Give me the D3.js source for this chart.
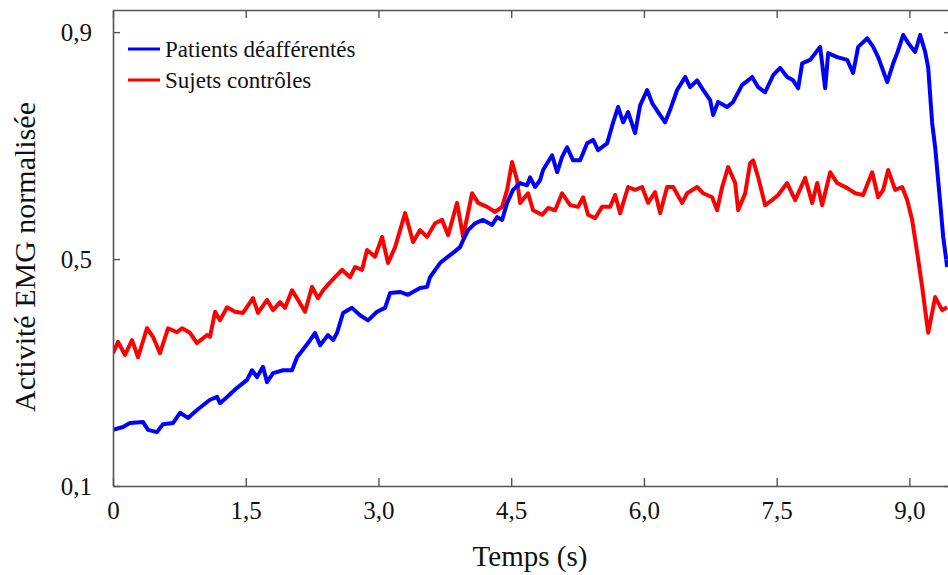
<!DOCTYPE html>
<html>
<head>
<meta charset="utf-8">
<script src="https://cdn.jsdelivr.net/npm/d3@7"></script>
<style>
  body { margin: 0; background: #fff; }
  text { font-family: "Liberation Serif", "Times New Roman", serif; fill: #111; }
</style>
</head>
<body>
<div id="chart"></div>
<script>
// time (s) / normalised EMG
const patientsT = [0, 0.113, 0.192, 0.339, 0.396, 0.497, 0.565, 0.678, 0.757, 0.848, 0.949, 1.096, 1.176, 1.209, 1.289, 1.402, 1.515, 1.571, 1.628, 1.695, 1.741, 1.809, 1.922, 2.023, 2.080, 2.170, 2.227, 2.283, 2.340, 2.430, 2.487, 2.532, 2.600, 2.701, 2.792, 2.882, 2.984, 3.074, 3.131, 3.244, 3.334, 3.470, 3.549, 3.583, 3.696, 3.775, 3.843, 3.922, 3.956, 4.013, 4.092, 4.182, 4.284, 4.340, 4.397, 4.454, 4.521, 4.600, 4.680, 4.713, 4.770, 4.826, 4.860, 4.962, 5.019, 5.075, 5.132, 5.199, 5.279, 5.358, 5.426, 5.482, 5.584, 5.652, 5.708, 5.765, 5.821, 5.900, 5.957, 6.036, 6.093, 6.160, 6.239, 6.296, 6.375, 6.466, 6.522, 6.601, 6.669, 6.748, 6.782, 6.838, 6.940, 7.008, 7.110, 7.178, 7.223, 7.291, 7.370, 7.460, 7.539, 7.618, 7.686, 7.743, 7.788, 7.878, 7.991, 8.048, 8.082, 8.184, 8.297, 8.364, 8.421, 8.523, 8.591, 8.647, 8.749, 8.817, 8.862, 8.930, 8.986, 9.065, 9.122, 9.178, 9.212, 9.257, 9.291, 9.348, 9.382, 9.427];
const patientsV = [0.199, 0.204, 0.211, 0.213, 0.199, 0.195, 0.209, 0.211, 0.229, 0.220, 0.234, 0.252, 0.257, 0.246, 0.257, 0.273, 0.287, 0.304, 0.292, 0.310, 0.283, 0.299, 0.304, 0.304, 0.327, 0.345, 0.357, 0.370, 0.348, 0.366, 0.357, 0.370, 0.405, 0.414, 0.401, 0.392, 0.407, 0.414, 0.440, 0.442, 0.437, 0.449, 0.451, 0.468, 0.493, 0.503, 0.511, 0.521, 0.533, 0.551, 0.563, 0.569, 0.560, 0.574, 0.569, 0.599, 0.622, 0.634, 0.630, 0.644, 0.627, 0.639, 0.657, 0.683, 0.653, 0.680, 0.697, 0.674, 0.674, 0.704, 0.710, 0.692, 0.704, 0.741, 0.768, 0.741, 0.759, 0.722, 0.771, 0.798, 0.775, 0.759, 0.741, 0.763, 0.798, 0.821, 0.803, 0.815, 0.798, 0.780, 0.754, 0.777, 0.768, 0.777, 0.807, 0.815, 0.821, 0.803, 0.794, 0.824, 0.837, 0.821, 0.815, 0.801, 0.845, 0.851, 0.874, 0.801, 0.863, 0.856, 0.851, 0.828, 0.874, 0.889, 0.874, 0.856, 0.812, 0.845, 0.863, 0.895, 0.881, 0.865, 0.895, 0.865, 0.838, 0.740, 0.697, 0.599, 0.539, 0.486];

const controlesT = [0, 0.057, 0.136, 0.215, 0.283, 0.384, 0.452, 0.531, 0.622, 0.723, 0.780, 0.870, 0.949, 1.062, 1.096, 1.153, 1.209, 1.289, 1.379, 1.469, 1.582, 1.639, 1.741, 1.809, 1.888, 1.944, 2.023, 2.091, 2.170, 2.249, 2.317, 2.374, 2.453, 2.509, 2.588, 2.679, 2.735, 2.815, 2.871, 2.961, 3.041, 3.108, 3.188, 3.301, 3.391, 3.470, 3.549, 3.640, 3.719, 3.787, 3.888, 3.956, 4.058, 4.126, 4.227, 4.318, 4.397, 4.454, 4.510, 4.567, 4.600, 4.691, 4.747, 4.849, 4.917, 4.996, 5.075, 5.166, 5.256, 5.313, 5.369, 5.448, 5.527, 5.618, 5.674, 5.731, 5.821, 5.900, 5.979, 6.047, 6.126, 6.183, 6.262, 6.330, 6.432, 6.488, 6.601, 6.669, 6.771, 6.827, 6.884, 6.952, 7.031, 7.065, 7.144, 7.200, 7.234, 7.291, 7.370, 7.449, 7.517, 7.618, 7.709, 7.822, 7.901, 7.958, 8.014, 8.105, 8.184, 8.297, 8.387, 8.477, 8.579, 8.647, 8.704, 8.760, 8.839, 8.918, 8.975, 9.031, 9.088, 9.144, 9.212, 9.291, 9.370, 9.427];
const controlesV = [0.334, 0.354, 0.331, 0.357, 0.327, 0.378, 0.363, 0.334, 0.378, 0.371, 0.378, 0.370, 0.352, 0.366, 0.363, 0.407, 0.392, 0.415, 0.407, 0.405, 0.431, 0.405, 0.428, 0.410, 0.424, 0.414, 0.445, 0.428, 0.407, 0.451, 0.431, 0.445, 0.459, 0.468, 0.481, 0.468, 0.486, 0.481, 0.516, 0.504, 0.539, 0.493, 0.521, 0.581, 0.530, 0.551, 0.539, 0.563, 0.569, 0.542, 0.599, 0.539, 0.616, 0.599, 0.592, 0.583, 0.592, 0.622, 0.671, 0.639, 0.599, 0.616, 0.586, 0.578, 0.590, 0.586, 0.616, 0.595, 0.592, 0.609, 0.578, 0.572, 0.592, 0.592, 0.613, 0.581, 0.627, 0.622, 0.627, 0.599, 0.618, 0.581, 0.627, 0.627, 0.599, 0.616, 0.627, 0.616, 0.609, 0.586, 0.627, 0.662, 0.634, 0.586, 0.616, 0.669, 0.674, 0.644, 0.595, 0.604, 0.613, 0.634, 0.604, 0.643, 0.599, 0.634, 0.595, 0.653, 0.634, 0.625, 0.616, 0.613, 0.653, 0.609, 0.622, 0.657, 0.622, 0.627, 0.604, 0.569, 0.511, 0.451, 0.370, 0.433, 0.410, 0.415];

const xTicks = [0, 1.5, 3.0, 4.5, 6.0, 7.5, 9.0];
const xTickLabels = ["0", "1,5", "3,0", "4,5", "6,0", "7,5", "9,0"];
const yTicks = [0.1, 0.5, 0.9];
const yTickLabels = ["0,1", "0,5", "0,9"];
const seriesNames = ["Patients déafférentés", "Sujets contrôles"];
const seriesColors = ["#0000ff", "#ff0000"];

const width = 948, height = 575;
const mLeft = 113, mTop = 10, mBottom = 486, mRight = 951;

const svg = d3.select("#chart").append("svg")
  .attr("width", width)
  .attr("height", height);

const x = d3.scaleLinear().domain([0, 9.47]).range([mLeft, mRight]);
const y = d3.scaleLinear().domain([0.1, 0.939]).range([mBottom, mTop]);

svg.append("clipPath").attr("id", "plot")
  .append("rect")
  .attr("x", mLeft).attr("y", mTop)
  .attr("width", mRight - mLeft).attr("height", mBottom - mTop);

// lines
const line = d3.line().x(d => x(d[0])).y(d => y(d[1]));
const series = [
  d3.zip(patientsT, patientsV),
  d3.zip(controlesT, controlesV)
];
// red drawn first so the blue sits on top where they cross
[1, 0].forEach(i => {
  svg.append("path")
    .datum(series[i])
    .attr("clip-path", "url(#plot)")
    .attr("fill", "none")
    .attr("stroke", seriesColors[i])
    .attr("stroke-width", 4)
    .attr("stroke-linejoin", "round")
    .attr("d", line);
});

// axes (ticks point inwards)
const axisColor = "#555";
function styleAxis(g) {
  g.select(".domain").attr("stroke", axisColor).attr("stroke-width", 1.6);
  g.selectAll(".tick line").attr("stroke", axisColor).attr("stroke-width", 1.4);
  g.selectAll("text").attr("font-size", 25).attr("fill", "#111")
    .attr("font-family", "Liberation Serif, serif");
}

svg.append("g")
  .attr("transform", `translate(0,${mBottom})`)
  .call(d3.axisBottom(x).tickValues(xTicks)
    .tickFormat((d, i) => xTickLabels[i]).tickSizeInner(-8).tickSizeOuter(0))
  .call(styleAxis)
  .call(g => g.selectAll("text").attr("y", 33).attr("dy", null));

svg.append("g")
  .attr("transform", `translate(0,${mTop})`)
  .call(d3.axisTop(x).tickValues(xTicks).tickFormat("").tickSizeInner(-8).tickSizeOuter(0))
  .call(styleAxis);

svg.append("g")
  .attr("transform", `translate(${mLeft},0)`)
  .call(d3.axisLeft(y).tickValues(yTicks)
    .tickFormat((d, i) => yTickLabels[i]).tickSizeInner(-7).tickSizeOuter(0).tickPadding(21))
  .call(styleAxis)
  .call(g => g.selectAll("text").attr("dy", "0.33em"));

svg.append("g")
  .attr("transform", `translate(${mRight},0)`)
  .call(d3.axisRight(y).tickValues(yTicks).tickFormat("").tickSizeInner(-7).tickSizeOuter(0))
  .call(styleAxis);

// axis titles
svg.append("text")
  .attr("x", 530).attr("y", 566)
  .attr("text-anchor", "middle")
  .attr("font-size", 29)
  .text("Temps (s)");

svg.append("text")
  .attr("transform", "translate(35,257) rotate(-90)")
  .attr("text-anchor", "middle")
  .attr("font-size", 30)
  .text("Activité EMG normalisée");

// legend
const legend = svg.append("g");
seriesNames.forEach((name, i) => {
  const ly = 49 + i * 31;
  legend.append("line")
    .attr("x1", 128).attr("x2", 160)
    .attr("y1", ly).attr("y2", ly)
    .attr("stroke", seriesColors[i])
    .attr("stroke-width", 3);
  legend.append("text")
    .attr("x", 165).attr("y", ly)
    .attr("dy", "0.33em")
    .attr("font-size", 23)
    .text(name);
});
</script>
</body>
</html>
